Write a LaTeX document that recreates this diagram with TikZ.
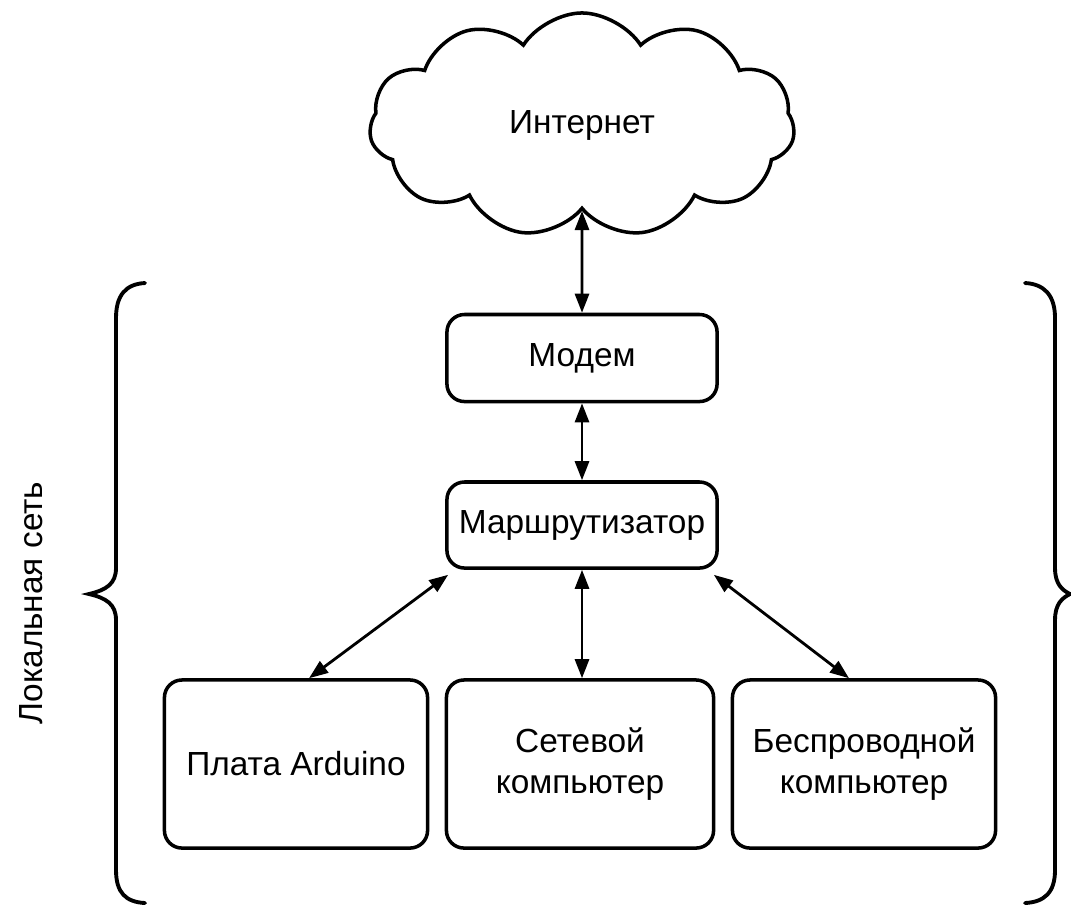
\documentclass[tikz,border=0pt]{standalone}
\usepackage{fontspec}
\setmainfont{Liberation Sans}
\usetikzlibrary{shapes.symbols,arrows.meta}

\begin{document}
\begin{tikzpicture}[x=0.01cm, y=-0.01cm,
	every node/.style={black, font=\fontsize{9.5}{11.5}\selectfont},
	box/.style={draw, line width=1pt, rounded corners=5pt, align=center, inner sep=2pt},
	link/.style={line width=0.8pt, {Triangle[length=1.9mm,width=1.4mm]}-{Triangle[length=1.9mm,width=1.4mm]}},
	brace/.style={line width=1.1pt, line cap=round}]
	\useasboundingbox (0,0) rectangle (1071,908);

	\node[cloud, draw, line width=1pt, cloud puffs=11, cloud puff arc=115, aspect=1.9,
		minimum width=4.25cm, minimum height=2.24cm] (inet) at (582,125) {Интернет};

	\node[box, minimum width=2.7cm, minimum height=0.87cm] (modem) at (582,358) {Модем};
	\node[box, minimum width=2.7cm, minimum height=0.86cm] (router) at (582,525) {Маршрутизатор};

	\node[box, minimum width=2.63cm, minimum height=1.68cm] (arduino) at (296,764) {Плата Arduino};
	\node[box, minimum width=2.67cm, minimum height=1.68cm] (netpc) at (580,764) {Сетевой\\компьютер};
	\node[box, minimum width=2.63cm, minimum height=1.68cm] (wifipc) at (864,764) {Беспроводной\\компьютер};

	\begin{scope}[link]
		\draw (inet.south) -- (modem.north);
		\draw (modem.south) -- (router.north);
		\draw ([shift={(3,5)}]router.south west) -- ([shift={(13,0)}]arduino.north);
		\draw (router.south) -- (router.south |- netpc.north);
		\draw ([shift={(-5,5)}]router.south east) -- ([shift={(-15,0)}]wifipc.north);
	\end{scope}

	% braces round the local network
	\draw[brace] (145,283) .. controls (126,284) and (116,295) .. (116,318) -- (116,568)
		.. controls (116,584) and (106,590) .. (89,594) .. controls (106,598) and (116,604) .. (116,620)
		-- (116,870) .. controls (116,893) and (126,902) .. (145,903);
	\draw[brace] (1025,283) .. controls (1044,284) and (1055,295) .. (1055,318) -- (1055,568)
		.. controls (1055,584) and (1062,590) .. (1070,594) .. controls (1062,598) and (1055,604) .. (1055,620)
		-- (1055,870) .. controls (1055,893) and (1044,902) .. (1025,903);

	\node[rotate=90] (lan) at (31,603) {Локальная сеть};
\end{tikzpicture}
\end{document}
